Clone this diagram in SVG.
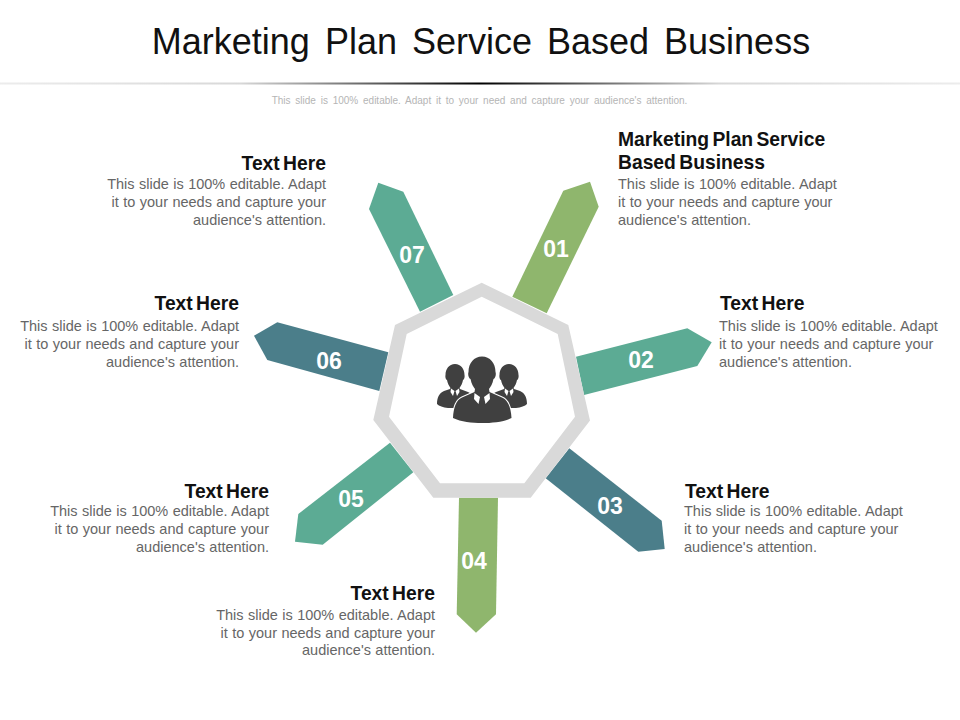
<svg xmlns="http://www.w3.org/2000/svg" width="960" height="720" viewBox="0 0 960 720">
<style>
text{font-family:"Liberation Sans",Arial,sans-serif}
.title{font-size:36px;fill:#111;word-spacing:5px}
.sub{font-size:10px;fill:#b5b5b5;word-spacing:2px}
.h{font-size:19.300px;font-weight:700;fill:#111;word-spacing:-2px}
.b{font-size:14.500px;fill:#666;word-spacing:.4px}
.e{text-anchor:end}
.n{font-size:23px;font-weight:700;fill:#fff;text-anchor:middle}
.g{fill:#8fb66d}.t{fill:#5cab94}.d{fill:#4b7e8a}
.p{fill:#404040}
</style>
<defs>
<linearGradient id="rule" x1="0" x2="1" y1="0" y2="0">
<stop offset="0" stop-color="#ececec"/><stop offset=".25" stop-color="#d8d8d8"/><stop offset=".5" stop-color="#000"/><stop offset=".75" stop-color="#d8d8d8"/><stop offset="1" stop-color="#ececec"/>
</linearGradient>
</defs>
<rect width="960" height="720" fill="#fff"/>
<text class="title" x="481" y="53.500" text-anchor="middle">Marketing Plan Service Based Business</text>
<rect x="0" y="82.500" width="960" height="2" fill="url(#rule)"/>
<text class="sub" x="479.500" y="104" text-anchor="middle">This slide is 100% editable. Adapt it to your need and capture your audience's attention.</text>
<g id="connectors"></g>
<g id="node-01"><polygon class="g" points="512.3,296.7 546.7,313.3 598.7,206.7 590,181.7 563.3,190.7"/><text class="n" x="556" y="257">01</text>
<text class="h" x="618" y="146">Marketing Plan Service</text><text class="h" x="618" y="169">Based Business</text>
<text class="b" x="618" y="189">This slide is 100% editable. Adapt</text><text class="b" x="618" y="207">it to your needs and capture your</text><text class="b" x="618" y="225">audience's attention.</text></g>
<g id="node-02"><polygon class="t" points="576,356.7 687.3,328.300 711.7,342.3 697.3,366 584,395"/><text class="n" x="641" y="368">02</text>
<text class="h" x="720" y="309.500">Text Here</text>
<text class="b" x="719" y="331">This slide is 100% editable. Adapt</text><text class="b" x="719" y="349">it to your needs and capture your</text><text class="b" x="719" y="367">audience's attention.</text></g>
<g id="node-03"><polygon class="d" points="569.3,448.3 661.7,520.7 664.7,549 638.3,551.7 545.7,478.3"/><text class="n" x="610" y="514">03</text>
<text class="h" x="685" y="497.500">Text Here</text>
<text class="b" x="684" y="516">This slide is 100% editable. Adapt</text><text class="b" x="684" y="534">it to your needs and capture your</text><text class="b" x="684" y="552">audience's attention.</text></g>
<g id="node-04"><polygon class="g" points="459,497.7 498,497.7 496,614.3 476,632.7 456.7,614.3"/><text class="n" x="474" y="569">04</text>
<text class="h e" x="435" y="599.500">Text Here</text>
<text class="b e" x="435" y="620">This slide is 100% editable. Adapt</text><text class="b e" x="435" y="638">it to your needs and capture your</text><text class="b e" x="435" y="655">audience's attention.</text></g>
<g id="node-05"><polygon class="t" points="390,442.7 413.3,472.3 322.7,544.7 295,541.7 298.3,514"/><text class="n" x="351" y="507">05</text>
<text class="h e" x="269" y="497.500">Text Here</text>
<text class="b e" x="269" y="516">This slide is 100% editable. Adapt</text><text class="b e" x="269" y="534">it to your needs and capture your</text><text class="b e" x="269" y="552">audience's attention.</text></g>
<g id="node-06"><polygon class="d" points="388.3,352.3 277.3,322.3 254,335.7 267.3,360 379.3,391"/><text class="n" x="329" y="369">06</text>
<text class="h e" x="239" y="309.500">Text Here</text>
<text class="b e" x="239" y="331">This slide is 100% editable. Adapt</text><text class="b e" x="239" y="349">it to your needs and capture your</text><text class="b e" x="239" y="367">audience's attention.</text></g>
<g id="node-07"><polygon class="t" points="453.3,295 420,311.7 369,209 378.3,182.7 403.3,191.7"/><text class="n" x="412" y="263">07</text>
<text class="h e" x="326" y="169.500">Text Here</text>
<text class="b e" x="326" y="189">This slide is 100% editable. Adapt</text><text class="b e" x="326" y="207">it to your needs and capture your</text><text class="b e" x="326" y="225">audience's attention.</text></g>
<g id="hub">
<path fill="#d9d9d9" fill-rule="evenodd" d="M481.7,282.7 L568.3,325 L590,420.500 L530.7,497.7 L433.3,497.7 L373.3,420 L395,325 Z M481.7,296.7 L406.7,334 L389,416.7 L440,483.3 L524.3,483.3 L575,416.7 L557.7,334 Z"/>
<g id="people">
<g id="person-left"><path class="p" d="M455,364 C461,364 464.500,369 464.500,375 C465,377 464,380 463,380 C462.500,383 461,386 459.500,388 L460,389 L468,392 C472,394 474,397 475,402 L475,408 L448,408 C443,407.500 439,406 437,404 C437,398 439,393 444,391 L450,389 L450.500,388 C449,386 447.500,383 447,380 C446,380 445,377 445.500,375 C445.500,369 449,364 455,364 Z"/>
<path fill="#fff" d="M451,388.500 L454.500,391 L453,396 L450.500,392 Z M459,388.500 L455.500,391 L457,396 L459.500,392 Z"/></g>
<g id="person-right"><path class="p" d="M509,364 C503,364 499.500,369 499.500,375 C499,377 500,380 501,380 C501.500,383 503,386 504.500,388 L504,389 L496,392 C492,394 490,397 489,402 L489,408 L516,408 C521,407.500 525,406 527,404 C527,398 525,393 520,391 L514,389 L513.500,388 C515,386 516.500,383 517,380 C518,380 519,377 518.500,375 C518.500,369 515,364 509,364 Z"/>
<path fill="#fff" d="M513,388.500 L509.500,391 L511,396 L513.500,392 Z M505,388.500 L508.500,391 L507,396 L504.500,392 Z"/></g>
<g id="person-center">
<path class="p" stroke="#fff" stroke-width="2" paint-order="stroke" d="M482,356.500 C490,356.500 495.500,363 495.500,372 C496.500,375 495,379 493.500,379 C492.500,384 490.500,387 489,389 L489.500,392 L502,397.500 C508,400 511,408 511.500,418 C503,422 492,423 482,423 C472,423 461,422 453,418 C453.500,408 456,400 462,397.500 L474.500,392 L475,389 C473.500,387 471.500,384 470.500,379 C469,379 467.500,375 468.500,372 C468.500,363 474,356.500 482,356.500 Z"/>
<path fill="#fff" d="M474.500,393 L480,397 L478.500,404 L474,399 Z M489.500,393 L484,397 L485.500,404 L490,399 Z"/>
</g>
</g>
</g>
</svg>
